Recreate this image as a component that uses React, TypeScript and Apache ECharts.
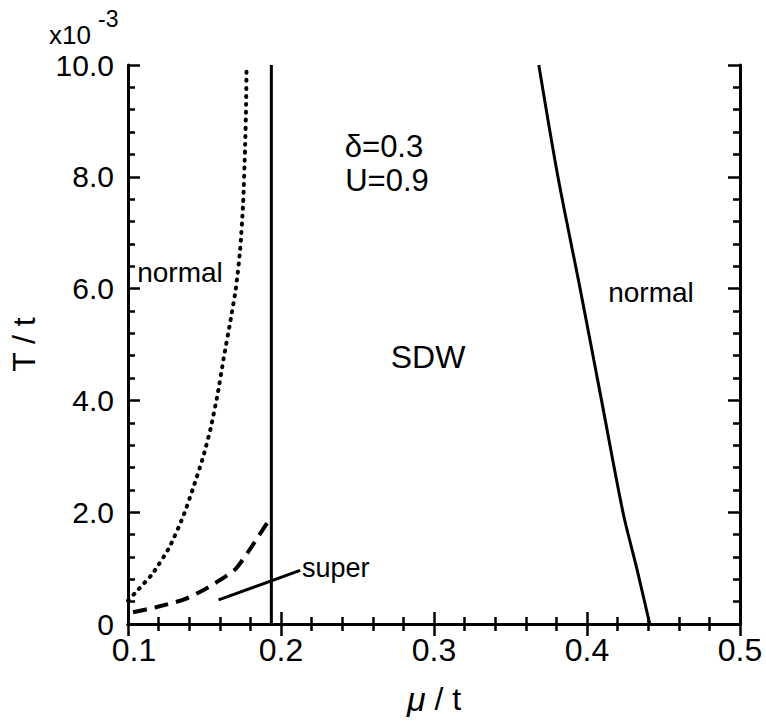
import React, { useEffect, useRef } from "react";
import * as echarts from "echarts";

// ---- data ----
const xTickValues = [0.1, 0.2, 0.3, 0.4, 0.5];
const xTickLabels = ["0.1", "0.2", "0.3", "0.4", "0.5"];
const yTickValues = [0, 2, 4, 6, 8, 10];
const yTickLabels = ["0", "2.0", "4.0", "6.0", "8.0", "10.0"];

// dotted boundary (normal / SDW-left), T in units of 1e-3
const dottedMu = [0.1, 0.1045, 0.116, 0.127, 0.1357, 0.1422, 0.1487, 0.154, 0.1585, 0.1625, 0.1668, 0.1705, 0.1733, 0.1752, 0.1765, 0.1772, 0.1775];
const dottedT = [0.42, 0.55, 0.9, 1.37, 1.9, 2.4, 2.95, 3.5, 4.1, 4.75, 5.4, 6.0, 6.7, 7.5, 8.5, 9.3, 10.0];

// dashed boundary (superconducting)
const dashedMu = [0.1033, 0.1182, 0.1358, 0.1488, 0.1598, 0.1702, 0.1793, 0.191];
const dashedT = [0.21, 0.3, 0.43, 0.6, 0.78, 0.98, 1.32, 1.81];

// vertical SDW boundary
const verticalMu = [0.1937, 0.1937];
const verticalT = [0, 10];

// pointer line to the "super" label
const pointerMu = [0.1592, 0.2125];
const pointerT = [0.43, 0.96];

// right SDW / normal boundary
const rightMu = [0.3685, 0.381, 0.3955, 0.4095, 0.4235, 0.4325, 0.441];
const rightT = [10, 8, 6, 4, 2, 1, 0];

const FONT = "'Liberation Sans', Arial, 'DejaVu Sans', sans-serif";

const zip = (xs: number[], ys: number[]) => xs.map((x, i) => [x, ys[i]]);
const findLabel = (vals: number[], labels: string[], v: number) => {
  const i = vals.findIndex((t) => Math.abs(t - v) < 1e-6);
  return i >= 0 ? labels[i] : "";
};

export default function App() {
  const ref = useRef<HTMLDivElement>(null);

  useEffect(() => {
    if (!ref.current) return;
    const chart = echarts.init(ref.current, null, { renderer: "svg" });

    const axisLine = { show: true, lineStyle: { color: "#000", width: 3 } };
    const axisTick = { show: true, inside: true, length: 12, lineStyle: { color: "#000", width: 2.5 } };
    const minorTick = { show: true, splitNumber: 5, length: 7, lineStyle: { color: "#000", width: 2.5 } };

    const txt = (x: number, y: number, text: string, size: number, align = "center") => ({
      type: "text",
      x,
      y,
      style: { text, fill: "#000", fontSize: size, fontFamily: FONT, align, verticalAlign: "middle", lineHeight: size },
    });

    const option: any = {
      animation: false,
      backgroundColor: "#fff",
      grid: { left: 125, right: 26, top: 65, bottom: 94 },
      xAxis: [
        {
          type: "value",
          min: 0.1,
          max: 0.5,
          interval: 0.1,
          position: "bottom",
          axisLine,
          axisTick,
          minorTick,
          splitLine: { show: false },
          axisLabel: {
            color: "#000",
            fontSize: 32,
            lineHeight: 24,
            fontFamily: FONT,
            margin: 14,
            formatter: (v: number) => {
              const s = findLabel(xTickValues, xTickLabels, v);
              return Math.abs(v - xTickValues[0]) < 1e-6 ? "{first|" + s + "}" : s;
            },
            rich: {
              first: { fontSize: 32, lineHeight: 24, fontFamily: FONT, color: "#000", padding: [0, 0, 0, 12] },
            },
          },
          name: "{mu|μ} / t",
          nameLocation: "middle",
          nameGap: 58,
          nameTextStyle: {
            color: "#000",
            fontSize: 32,
            fontFamily: FONT,
            rich: { mu: { fontStyle: "italic", fontSize: 34, fontFamily: FONT, color: "#000" } },
          },
        },
        {
          type: "value",
          min: 0.1,
          max: 0.5,
          interval: 0.1,
          position: "top",
          axisLine,
          axisTick,
          minorTick,
          splitLine: { show: false },
          axisLabel: { show: false },
        },
      ],
      yAxis: [
        {
          type: "value",
          min: 0,
          max: 10,
          interval: 2,
          position: "left",
          axisLine,
          axisTick,
          minorTick,
          splitLine: { show: false },
          axisLabel: {
            color: "#000",
            fontSize: 30,
            lineHeight: 20,
            fontFamily: FONT,
            margin: 14,
            formatter: (v: number) => findLabel(yTickValues, yTickLabels, v),
          },
          name: "T / t",
          nameLocation: "middle",
          nameGap: 88,
          nameTextStyle: { color: "#000", fontSize: 32, fontFamily: FONT },
        },
        {
          type: "value",
          min: 0,
          max: 10,
          interval: 2,
          position: "right",
          axisLine,
          axisTick,
          minorTick,
          splitLine: { show: false },
          axisLabel: { show: false },
        },
      ],
      series: [
        {
          type: "line",
          data: zip(dottedMu, dottedT),
          symbol: "none",
          smooth: 0.2,
          lineStyle: { color: "#000", width: 4, type: [1, 7], cap: "round" },
        },
        {
          type: "line",
          data: zip(dashedMu, dashedT),
          symbol: "none",
          smooth: 0.2,
          lineStyle: { color: "#000", width: 4, type: [14, 8] },
        },
        {
          type: "line",
          data: zip(verticalMu, verticalT),
          symbol: "none",
          lineStyle: { color: "#000", width: 3 },
        },
        {
          type: "line",
          data: zip(pointerMu, pointerT),
          symbol: "none",
          lineStyle: { color: "#000", width: 3 },
        },
        {
          type: "line",
          data: zip(rightMu, rightT),
          symbol: "none",
          smooth: 0.3,
          lineStyle: { color: "#000", width: 3 },
        },
      ],
      graphic: [
        txt(49, 35, "x10", 26, "left"),
        txt(98, 19, "-3", 23, "left"),
        txt(180, 272, "normal", 28),
        txt(651, 292, "normal", 28),
        txt(428, 357, "SDW", 32),
        txt(384, 146, "δ=0.3", 31),
        txt(387, 180, "U=0.9", 31),
        txt(302, 568, "super", 27, "left"),
      ],
    };

    chart.setOption(option);
    return () => chart.dispose();
  }, []);

  return (
    <div
      ref={ref}
      style={{ position: "fixed", left: 0, top: 0, width: 766, height: 721, background: "#fff" }}
    />
  );
}
